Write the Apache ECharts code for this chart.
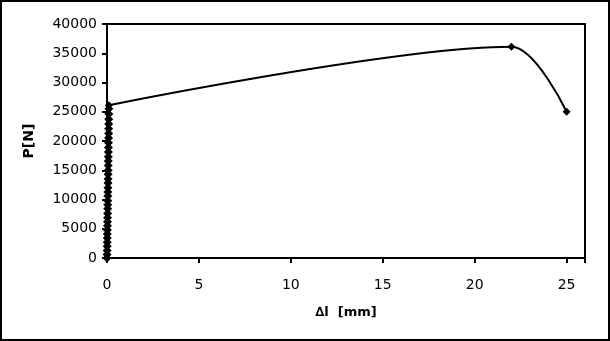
<!DOCTYPE html>
<html><head><meta charset="utf-8">
<script src="https://cdn.jsdelivr.net/npm/echarts@6/dist/echarts.min.js"></script>
<style>
html,body{margin:0;padding:0;background:#fff;}
#frame{position:absolute;left:0;top:0;width:606px;height:337px;border:2px solid #000;}
#c{position:absolute;left:0;top:0;width:610px;height:341px;}
</style></head>
<body><div id="frame"></div><div id="c"></div>
<script>
// elastic part: elongation Δl [mm] and force P [N]
const elasticElongation = [0, 0.003, 0.006, 0.009, 0.012, 0.015, 0.018, 0.021, 0.024, 0.027, 0.03, 0.033, 0.036, 0.039, 0.042, 0.045, 0.048, 0.051, 0.054, 0.057, 0.06, 0.063, 0.066, 0.069, 0.072, 0.075, 0.078, 0.081, 0.084, 0.087, 0.09, 0.093, 0.096, 0.098, 0.1];
const elasticForce = [0, 600, 1300, 2000, 2700, 3400, 4100, 4800, 5500, 6200, 6900, 7600, 8400, 9100, 9800, 10600, 11300, 12000, 12800, 13500, 14300, 15000, 15800, 16600, 17300, 18100, 18900, 19700, 20500, 21300, 22100, 22900, 23700, 24600, 25500];
// plastic part
const plasticElongation = [0.1, 22, 25];
const plasticForce = [26100, 36100, 25000];
const xTicks = [0, 5, 10, 15, 20, 25];
const yTicks = [0, 5000, 10000, 15000, 20000, 25000, 30000, 35000, 40000];

const elastic = elasticElongation.map((x, i) => [x, elasticForce[i]]);
const plastic = plasticElongation.map((x, i) => [x, plasticForce[i]]);
const font = 'DejaVu Sans, Liberation Sans, Arial, sans-serif';
const chart = echarts.init(document.getElementById('c'));
chart.setOption({
  animation: false,
  grid: {left: 107, right: 25, top: 24, bottom: 83, show: true, borderColor: '#000', borderWidth: 2, backgroundColor: 'transparent'},
  xAxis: {
    type: 'value', min: 0, max: 26, interval: 5,
    name: '∆l  [mm]', nameLocation: 'middle', nameGap: 48,
    nameTextStyle: {fontFamily: font, fontSize: 13, fontWeight: 'bold', color: '#000'},
    axisLine: {lineStyle: {color: '#000', width: 2}},
    axisTick: {show: true, length: 5, lineStyle: {color: '#000', width: 2}},
    axisLabel: {fontFamily: font, fontSize: 14, color: '#000', margin: 20,
      formatter: v => xTicks.includes(v) ? String(v) : ''},
    splitLine: {show: false}
  },
  yAxis: {
    type: 'value', min: 0, max: 40000, interval: 5000,
    name: 'P[N]', nameLocation: 'middle', nameGap: 71,
    nameTextStyle: {fontFamily: font, fontSize: 14, fontWeight: 'bold', color: '#000'},
    axisLine: {show: true, lineStyle: {color: '#000', width: 2}},
    axisTick: {show: true, length: 5, lineStyle: {color: '#000', width: 2}},
    axisLabel: {fontFamily: font, fontSize: 14, color: '#000', margin: 10,
      formatter: v => yTicks.includes(v) ? String(v) : ''},
    splitLine: {show: false}
  },
  series: [{
    type: 'line', data: elastic, smooth: false,
    symbol: 'diamond', symbolSize: 9, showAllSymbol: true, clip: false,
    lineStyle: {color: '#000', width: 2},
    itemStyle: {color: '#000'}
  }, {
    type: 'line', data: plastic, smooth: 0.3,
    symbol: 'diamond', symbolSize: 8, showAllSymbol: true, clip: false,
    lineStyle: {color: '#000', width: 2},
    itemStyle: {color: '#000'}
  }]
});
</script></body></html>
